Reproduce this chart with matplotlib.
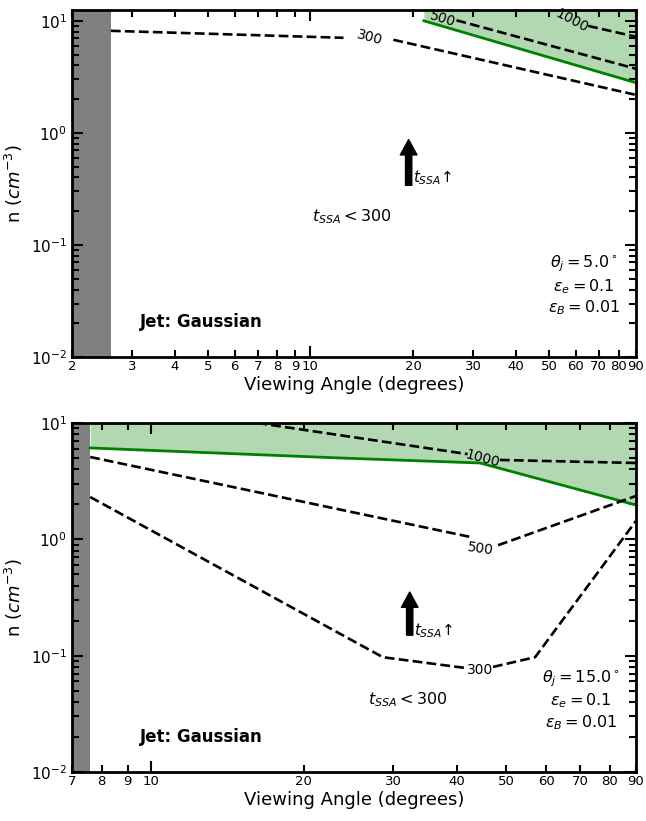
import numpy as np
import matplotlib
matplotlib.use("Agg")
import matplotlib.pyplot as plt
from matplotlib.ticker import LogLocator, FuncFormatter, NullFormatter

# ---- theta_j = 5 deg panel ----
top_theta_j = 5.0
top_xlim = (2.0, 90.0)
top_ylim = (1e-2, 12.5)
top_core_edge = 2.6

top_green_ang = [21.5, 90.0]
top_green_n = [10.0, 2.8]

top_c300_ang = [2.6, 12.5, np.nan, 17.5, 90.0]
top_c300_n = [8.14, 7.05, np.nan, 6.77, 2.18]
top_c500_ang = [26.8, 90.0]
top_c500_n = [10.1, 3.73]
top_c1000_ang = [65.2, 90.0]
top_c1000_n = [9.0, 7.2]

top_labels = [("300", 14.9, 7.05, -15), ("500", 24.4, 10.4, -17), ("1000", 58.5, 10.1, -28)]
top_arrow = (19.4, 0.34, 0.87)
top_arrow_text = (20.0, 0.33)
top_limit_text = (13.2, 0.178)

# ---- theta_j = 15 deg panel ----
bot_theta_j = 15.0
bot_xlim = (7.0, 90.0)
bot_ylim = (1e-2, 10.0)
bot_core_edge = 7.6

bot_green_ang = [7.6, 23.6, 44.4, 90.0]
bot_green_n = [6.1, 5.0, 4.53, 1.97]

bot_c1000_ang = [16.2, 42.0, np.nan, 48.6, 90.0]
bot_c1000_n = [10.0, 5.4, np.nan, 4.81, 4.53]
bot_c500_ang = [7.6, 42.4, np.nan, 48.2, 90.0]
bot_c500_n = [5.1, 1.05, np.nan, 0.89, 2.36]
bot_c300_ang = [7.6, 28.6, 41.9, np.nan, 47.1, 57.0, 90.0]
bot_c300_n = [2.31, 0.097, 0.078, np.nan, 0.080, 0.097, 1.44]

bot_labels = [("1000", 44.8, 4.9, -15), ("500", 44.6, 0.83, -8), ("300", 44.4, 0.075, 0)]
bot_arrow = (32.3, 0.150, 0.352)
bot_arrow_text = (33.0, 0.136)
bot_limit_text = (32.0, 0.0415)

eps_e = 0.1
eps_B = 0.01


def style_axis(ax, xlim, ylim):
    ax.set_xscale("log")
    ax.set_yscale("log")
    ax.set_xlim(*xlim)
    ax.set_ylim(*ylim)
    ax.xaxis.set_major_locator(LogLocator(base=10))
    ax.xaxis.set_minor_locator(LogLocator(base=10, subs=np.arange(2, 10)))
    fmt = FuncFormatter(lambda v, _: f"{v:g}")
    ax.xaxis.set_major_formatter(fmt)
    ax.xaxis.set_minor_formatter(fmt)
    ax.yaxis.set_minor_locator(LogLocator(base=10, subs=np.arange(2, 10), numticks=20))
    ax.yaxis.set_minor_formatter(NullFormatter())
    ax.tick_params(which="both", direction="in", top=True, right=True, width=1.5)
    ax.tick_params(which="major", length=8)
    ax.tick_params(which="minor", length=5)
    ax.tick_params(axis="x", which="both", labelsize=9.5, pad=2)
    ax.tick_params(axis="y", which="both", labelsize=11)
    for s in ax.spines.values():
        s.set_linewidth(2)
    ax.set_xlabel("Viewing Angle (degrees)", fontsize=13, labelpad=2)
    ax.set_ylabel("n ($cm^{-3}$)", fontsize=13)


def draw_panel(ax, xlim, ylim, core, g_ang, g_n, contours, labels,
               arrow, arrow_txt, lim_txt, theta_j):
    style_axis(ax, xlim, ylim)
    ax.axvspan(xlim[0], core, color="gray", lw=0)
    ax.fill_between(g_ang, g_n, ylim[1], color="green", alpha=0.3, lw=0)
    ax.plot(g_ang, g_n, color="green", lw=2)
    for ang, n in contours:
        ax.plot(ang, n, "k--", lw=1.9)
    for txt, x, y, rot in labels:
        ax.text(x, y, txt, fontsize=10, rotation=rot, ha="center", va="center")
    ax.annotate("", xy=(arrow[0], arrow[2]), xytext=(arrow[0], arrow[1]),
                arrowprops=dict(facecolor="black", edgecolor="black",
                                width=4.5, headwidth=12, headlength=11))
    ax.text(arrow_txt[0], arrow_txt[1], "$t_{SSA}$\u2191", fontsize=11,
            ha="left", va="bottom")
    ax.text(lim_txt[0], lim_txt[1], r"$t_{SSA} < 300$", fontsize=11.5,
            ha="center", va="center")
    ax.text(0.972, 0.115,
            f"$\\theta_j = {theta_j:.1f}^\\circ$\n$\\varepsilon_e = {eps_e}$\n$\\varepsilon_B = {eps_B}$",
            transform=ax.transAxes, ha="right", va="bottom", fontsize=11.5,
            multialignment="center")
    ax.text(0.12, 0.075, "Jet: Gaussian", transform=ax.transAxes,
            fontsize=12, fontweight="bold", ha="left", va="bottom")


fig = plt.figure(figsize=(6.46, 8.21), dpi=100)
ax1 = fig.add_axes([0.1115, 0.5652, 0.873, 0.4227])
ax2 = fig.add_axes([0.1115, 0.0597, 0.873, 0.4251])

draw_panel(ax1, top_xlim, top_ylim, top_core_edge, top_green_ang, top_green_n,
           [(top_c300_ang, top_c300_n), (top_c500_ang, top_c500_n),
            (top_c1000_ang, top_c1000_n)],
           top_labels, top_arrow, top_arrow_text, top_limit_text, top_theta_j)
draw_panel(ax2, bot_xlim, bot_ylim, bot_core_edge, bot_green_ang, bot_green_n,
           [(bot_c1000_ang, bot_c1000_n), (bot_c500_ang, bot_c500_n),
            (bot_c300_ang, bot_c300_n)],
           bot_labels, bot_arrow, bot_arrow_text, bot_limit_text, bot_theta_j)

fig.savefig("out.png", dpi=100)
